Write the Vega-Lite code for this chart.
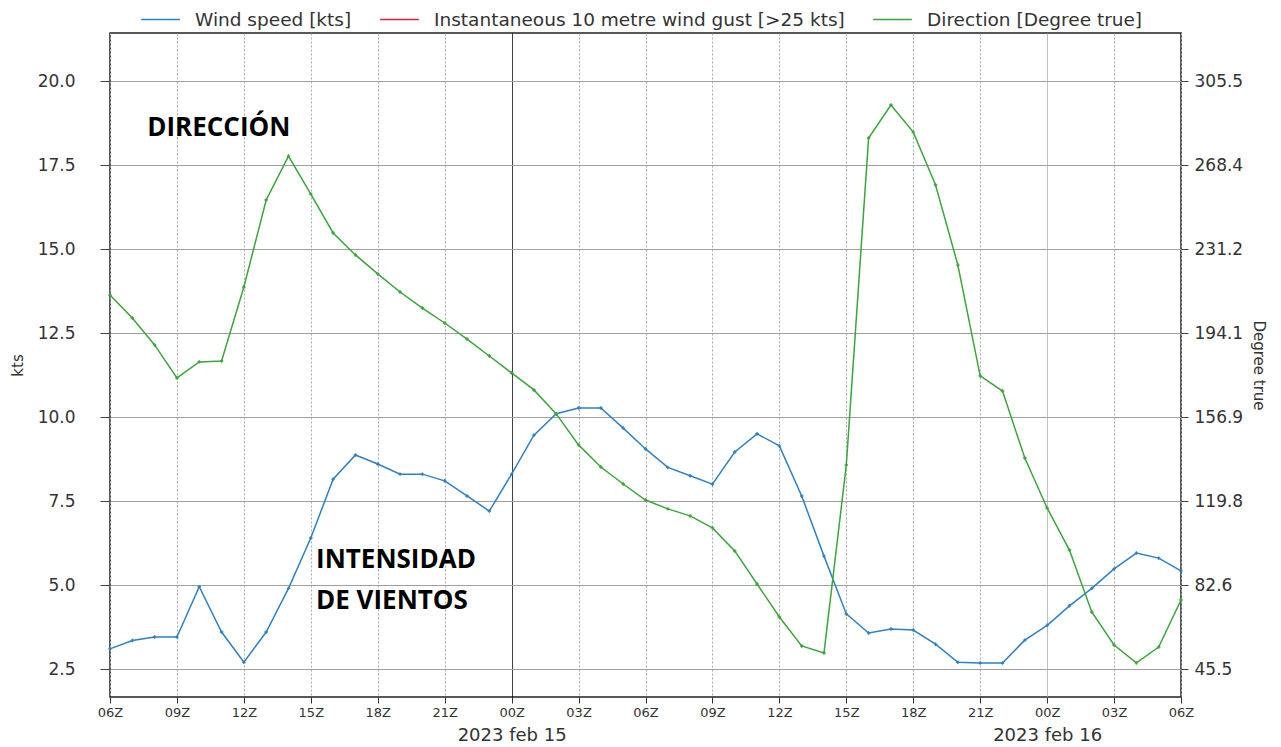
{
  "$schema": "https://vega.github.io/schema/vega-lite/v6.json",
  "width": 1071,
  "height": 664,
  "autosize": "none",
  "padding": {"left": 110, "top": 33, "right": 100, "bottom": 50},
  "background": "#ffffff",
  "config": {
    "view": {"stroke": "#222222", "strokeWidth": 1.5},
    "font": "DejaVu Sans"
  },
  "data": {
    "values": [
      {"t": "2023-02-14T06:00:00Z", "ws": 3.1, "dir": 210.9},
      {"t": "2023-02-14T07:00:00Z", "ws": 3.35, "dir": 200.7},
      {"t": "2023-02-14T08:00:00Z", "ws": 3.45, "dir": 188.8},
      {"t": "2023-02-14T09:00:00Z", "ws": 3.45, "dir": 174.2},
      {"t": "2023-02-14T10:00:00Z", "ws": 4.95, "dir": 181.3},
      {"t": "2023-02-14T11:00:00Z", "ws": 3.6, "dir": 181.7},
      {"t": "2023-02-14T12:00:00Z", "ws": 2.7, "dir": 214.4},
      {"t": "2023-02-14T13:00:00Z", "ws": 3.6, "dir": 252.9},
      {"t": "2023-02-14T14:00:00Z", "ws": 4.9, "dir": 272.3},
      {"t": "2023-02-14T15:00:00Z", "ws": 6.4, "dir": 255.5},
      {"t": "2023-02-14T16:00:00Z", "ws": 8.15, "dir": 238.3},
      {"t": "2023-02-14T17:00:00Z", "ws": 8.87, "dir": 228.6},
      {"t": "2023-02-14T18:00:00Z", "ws": 8.6, "dir": 220.2},
      {"t": "2023-02-14T19:00:00Z", "ws": 8.3, "dir": 212.2},
      {"t": "2023-02-14T20:00:00Z", "ws": 8.3, "dir": 205.1},
      {"t": "2023-02-14T21:00:00Z", "ws": 8.1, "dir": 198.5},
      {"t": "2023-02-14T22:00:00Z", "ws": 7.65, "dir": 191.4},
      {"t": "2023-02-14T23:00:00Z", "ws": 7.2, "dir": 183.9},
      {"t": "2023-02-15T00:00:00Z", "ws": 8.3, "dir": 176.4},
      {"t": "2023-02-15T01:00:00Z", "ws": 9.46, "dir": 168.9},
      {"t": "2023-02-15T02:00:00Z", "ws": 10.1, "dir": 158.3},
      {"t": "2023-02-15T03:00:00Z", "ws": 10.27, "dir": 144.6},
      {"t": "2023-02-15T04:00:00Z", "ws": 10.27, "dir": 134.8},
      {"t": "2023-02-15T05:00:00Z", "ws": 9.67, "dir": 127.3},
      {"t": "2023-02-15T06:00:00Z", "ws": 9.05, "dir": 120.2},
      {"t": "2023-02-15T07:00:00Z", "ws": 8.5, "dir": 116.3},
      {"t": "2023-02-15T08:00:00Z", "ws": 8.25, "dir": 113.2},
      {"t": "2023-02-15T09:00:00Z", "ws": 8.0, "dir": 107.9},
      {"t": "2023-02-15T10:00:00Z", "ws": 8.96, "dir": 97.7},
      {"t": "2023-02-15T11:00:00Z", "ws": 9.5, "dir": 83.1},
      {"t": "2023-02-15T12:00:00Z", "ws": 9.14, "dir": 68.5},
      {"t": "2023-02-15T13:00:00Z", "ws": 7.65, "dir": 55.7},
      {"t": "2023-02-15T14:00:00Z", "ws": 5.86, "dir": 52.6},
      {"t": "2023-02-15T15:00:00Z", "ws": 4.14, "dir": 135.7},
      {"t": "2023-02-15T16:00:00Z", "ws": 3.57, "dir": 280.3},
      {"t": "2023-02-15T17:00:00Z", "ws": 3.69, "dir": 294.9},
      {"t": "2023-02-15T18:00:00Z", "ws": 3.66, "dir": 282.9},
      {"t": "2023-02-15T19:00:00Z", "ws": 3.24, "dir": 259.5},
      {"t": "2023-02-15T20:00:00Z", "ws": 2.7, "dir": 224.1},
      {"t": "2023-02-15T21:00:00Z", "ws": 2.68, "dir": 175.1},
      {"t": "2023-02-15T22:00:00Z", "ws": 2.68, "dir": 168.4},
      {"t": "2023-02-15T23:00:00Z", "ws": 3.36, "dir": 138.8},
      {"t": "2023-02-16T00:00:00Z", "ws": 3.8, "dir": 116.7},
      {"t": "2023-02-16T01:00:00Z", "ws": 4.38, "dir": 98.1},
      {"t": "2023-02-16T02:00:00Z", "ws": 4.9, "dir": 70.7},
      {"t": "2023-02-16T03:00:00Z", "ws": 5.48, "dir": 56.1},
      {"t": "2023-02-16T04:00:00Z", "ws": 5.95, "dir": 48.2},
      {"t": "2023-02-16T05:00:00Z", "ws": 5.8, "dir": 55.2},
      {"t": "2023-02-16T06:00:00Z", "ws": 5.42, "dir": 76.0}
    ]
  },
  "layer": [
    {
      "layer": [
        {
          "mark": {"type": "line", "strokeWidth": 1.5, "point": {"shape": "cross", "size": 12, "filled": true}},
          "encoding": {
            "x": {
              "field": "t", "type": "temporal",
              "axis": {
                "orient": "bottom", "title": null,
                "tickCount": 16,
                "labelExpr": "utcFormat(datum.value, '%HZ')",
                "labelFlush": false,
                "grid": true,
                "gridColor": {"condition": {"test": "utchours(datum.value) == 0 && utcdate(datum.value) == 15", "value": "#000000"}, "value": "#aaaaaa"},
                "gridDash": {"condition": {"test": "utchours(datum.value) == 0", "value": [1, 0]}, "value": [2, 2]},
                "domain": false, "tickSize": 6, "tickColor": "#333333",
                "labelFont": "DejaVu Sans", "labelFontSize": 13, "labelColor": "#333333", "labelPadding": 3
              }
            },
            "y": {
              "field": "ws", "type": "quantitative",
              "scale": {"domain": [1.667, 21.429], "nice": false, "zero": false},
              "axis": {
                "orient": "left", "title": "kts",
                "values": [2.5, 5, 7.5, 10, 12.5, 15, 17.5, 20], "format": ".1f",
                "grid": true, "gridColor": "#a0a0a0", "gridWidth": 1,
                "domain": false, "tickSize": 10, "tickColor": "#444444",
                "labelPadding": 25, "labelFont": "DejaVu Sans", "labelFontSize": 17, "labelColor": "#333333",
                "titleFont": "DejaVu Sans", "titleFontSize": 15, "titleFontWeight": "normal", "titleColor": "#333333", "titlePadding": 12
              }
            },
            "color": {
              "datum": "Wind speed [kts]",
              "scale": {"domain": ["Wind speed [kts]", "Instantaneous 10 metre wind gust [>25 kts]", "Direction [Degree true]"], "range": ["#2f80c2", "#d62728", "#3aa53a"]},
              "legend": {
                "orient": "none", "legendX": 30, "legendY": -34, "direction": "horizontal", "columns": 3, "title": null,
                "symbolType": "stroke", "symbolSize": 1500, "symbolStrokeWidth": 1.3,
                "labelLimit": 700, "labelOffset": 14, "columnPadding": 25,
                "labelFont": "DejaVu Sans", "labelFontSize": 18.5, "labelColor": "#333333"
              }
            }
          }
        },
        {
          "data": {
            "values": [
              {"t": "2023-02-14T07:40:00Z", "v": 18.6, "txt": "DIRECCIÓN"},
              {"t": "2023-02-14T15:14:00Z", "v": 5.74, "txt": "INTENSIDAD"},
              {"t": "2023-02-14T15:14:00Z", "v": 4.52, "txt": "DE VIENTOS"}
            ]
          },
          "mark": {"type": "text", "align": "left", "baseline": "middle", "font": "Open Sans", "fontWeight": "bold", "fontSize": 26, "color": "#000000"},
          "encoding": {
            "x": {"field": "t", "type": "temporal"},
            "y": {"field": "v", "type": "quantitative", "title": "kts"},
            "text": {"field": "txt"}
          }
        }
      ]
    },
    {
      "mark": {"type": "line", "strokeWidth": 1.5, "point": {"shape": "cross", "size": 12, "filled": true}},
      "encoding": {
        "x": {
          "field": "t", "type": "temporal",
          "axis": {
            "orient": "bottom", "title": null,
            "values": [{"year": 2023, "month": 2, "date": 15, "utc": true}, {"year": 2023, "month": 2, "date": 16, "utc": true}],
            "labelExpr": "lower(utcFormat(datum.value, '%Y %b %d'))",
            "ticks": false, "tickSize": 0, "domain": false, "grid": false,
            "labelPadding": 29, "labelFont": "DejaVu Sans", "labelFontSize": 18, "labelColor": "#333333", "labelFlush": false
          }
        },
        "y": {
          "field": "dir", "type": "quantitative",
          "scale": {"domain": [33.12, 326.73], "nice": false, "zero": false},
          "axis": {
            "orient": "right", "title": "Degree true",
            "values": [45.5, 82.643, 119.786, 156.929, 194.071, 231.214, 268.357, 305.5], "format": ".1f",
            "grid": false, "domain": false, "tickSize": 7, "tickColor": "#444444",
            "labelPadding": 6, "labelFont": "DejaVu Sans", "labelFontSize": 17, "labelColor": "#333333",
            "titleFont": "DejaVu Sans", "titleFontSize": 15, "titleFontWeight": "normal", "titleColor": "#333333", "titlePadding": 8
          }
        },
        "color": {"datum": "Direction [Degree true]"}
      }
    }
  ],
  "resolve": {"scale": {"y": "independent"}, "axis": {"x": "independent"}}
}
